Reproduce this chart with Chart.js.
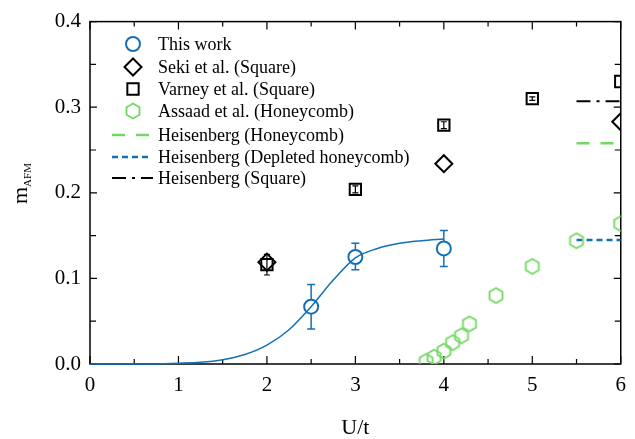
<!DOCTYPE html>
<html>
<head>
<meta charset="utf-8">
<script src="https://cdn.jsdelivr.net/npm/chart.js@4"></script>
<style>
  html, body { margin: 0; padding: 0; background: #fff; }
  #wrap { width: 635px; height: 439px; }
</style>
</head>
<body>
<div id="wrap"><canvas id="afmChart" width="635" height="439"></canvas></div>
<script>
// valeurs
var uTicks = [0, 1, 2, 3, 4, 5, 6];
var mTicks = [0, 0.1, 0.2, 0.3, 0.4];

var thisWorkU = [2.5, 3, 4];
var thisWorkM = [0.067, 0.125, 0.135];
var thisWorkLo = [0.041, 0.110, 0.114];
var thisWorkHi = [0.093, 0.141, 0.156];

var fitU = [0, 0.5, 1, 1.25, 1.5, 1.75, 2, 2.25, 2.5, 2.75, 3, 3.25, 3.5, 3.75, 4];
var fitM = [0, 0, 0.001, 0.002, 0.005, 0.011, 0.022, 0.040, 0.067, 0.098, 0.124, 0.135, 0.141, 0.144, 0.146];

var sekiU = [2, 4, 6];
var sekiM = [0.119, 0.234, 0.283];

var varneyU = [2, 3, 4, 5, 6];
var varneyM = [0.116, 0.204, 0.279, 0.310, 0.330];
var varneyErr = [0.012, 0.004, 0.004, 0.002, 0.002];

var assaadU = [3.8, 3.89, 4.0, 4.1, 4.2, 4.29, 4.59, 5.0, 5.5, 6.0];
var assaadM = [0.003, 0.008, 0.015, 0.025, 0.033, 0.047, 0.080, 0.114, 0.144, 0.164];

var heisU = [5.5, 6];
var heisHoneycomb = [0.258, 0.258];
var heisDepleted = [0.145, 0.145];
var heisSquare = [0.307, 0.307];

var labels = ['This work', 'Seki et al. (Square)', 'Varney et al. (Square)', 'Assaad et al. (Honeycomb)',
  'Heisenberg (Honeycomb)', 'Heisenberg (Depleted honeycomb)', 'Heisenberg (Square)'];

var BLUE = '#1470b4';
var GREEN = '#72d862';
var SERIF = "'Liberation Serif', 'DejaVu Serif', serif";

function pts(xs, ys) {
  return xs.map(function (x, i) { return { x: x, y: ys[i] }; });
}

// hexagone pour Assaad
var hex = document.createElement('canvas');
hex.width = 20; hex.height = 20;
(function () {
  var c = hex.getContext('2d');
  c.strokeStyle = GREEN;
  c.lineWidth = 1.8;
  c.beginPath();
  for (var k = 0; k < 6; k++) {
    var a = Math.PI / 2 + k * Math.PI / 3;
    var px = 10 + 7.5 * Math.cos(a), py = 10 + 7.5 * Math.sin(a);
    if (k === 0) c.moveTo(px, py); else c.lineTo(px, py);
  }
  c.closePath();
  c.stroke();
})();

var errorBars = {
  id: 'errorBars',
  afterDatasetsDraw: function (chart) {
    var ctx = chart.ctx, xs = chart.scales.x, ys = chart.scales.y;
    ctx.save();
    ctx.lineWidth = 1.5;
    ctx.strokeStyle = BLUE;
    thisWorkU.forEach(function (u, i) {
      var px = xs.getPixelForValue(u);
      var pc = ys.getPixelForValue(thisWorkM[i]);
      var pl = ys.getPixelForValue(thisWorkLo[i]);
      var ph = ys.getPixelForValue(thisWorkHi[i]);
      ctx.beginPath();
      ctx.moveTo(px, ph); ctx.lineTo(px, pc - 7);
      ctx.moveTo(px, pc + 7); ctx.lineTo(px, pl);
      ctx.moveTo(px - 4, ph); ctx.lineTo(px + 4, ph);
      ctx.moveTo(px - 4, pl); ctx.lineTo(px + 4, pl);
      ctx.stroke();
    });
    ctx.strokeStyle = '#000';
    ctx.lineWidth = 1.2;
    varneyU.forEach(function (u, i) {
      if (u >= 6) return;
      var px = xs.getPixelForValue(u);
      var pl = ys.getPixelForValue(varneyM[i] - varneyErr[i]);
      var ph = ys.getPixelForValue(varneyM[i] + varneyErr[i]);
      ctx.beginPath();
      ctx.moveTo(px, ph); ctx.lineTo(px, pl);
      ctx.moveTo(px - 3, ph); ctx.lineTo(px + 3, ph);
      ctx.moveTo(px - 3, pl); ctx.lineTo(px + 3, pl);
      ctx.stroke();
    });
    ctx.restore();
  }
};

// cadre, graduations internes et titre y (dessinés sous les courbes)
var frame = {
  id: 'frame',
  beforeDatasetsDraw: function (chart) {
    var ctx = chart.ctx, a = chart.chartArea, xs = chart.scales.x, ys = chart.scales.y;
    ctx.save();
    ctx.strokeStyle = '#000';
    ctx.lineWidth = 1.5;
    ctx.strokeRect(a.left, a.top, a.right - a.left, a.bottom - a.top);
    ctx.lineWidth = 1.2;
    ctx.beginPath();
    for (var u = 0; u <= 6; u += 0.5) {
      var px = xs.getPixelForValue(u);
      var len = (u % 1 === 0) ? 8 : 5;
      ctx.moveTo(px, a.bottom); ctx.lineTo(px, a.bottom - len);
      ctx.moveTo(px, a.top); ctx.lineTo(px, a.top + len);
    }
    for (var m = 0; m <= 8; m++) {
      var py = ys.getPixelForValue(m * 0.05);
      var l2 = (m % 2 === 0) ? 7 : 6;
      ctx.moveTo(a.left, py); ctx.lineTo(a.left + l2, py);
      ctx.moveTo(a.right, py); ctx.lineTo(a.right - l2, py);
    }
    ctx.stroke();

    ctx.fillStyle = '#000';
    ctx.translate(27, 204);
    ctx.rotate(-Math.PI / 2);
    ctx.textAlign = 'left';
    ctx.textBaseline = 'alphabetic';
    ctx.font = '22px ' + SERIF;
    ctx.fillText('m', 0, 0);
    var w = ctx.measureText('m').width;
    ctx.font = '11px ' + SERIF;
    ctx.fillText('AFM', w, 4);
    ctx.restore();
  }
};

var legendBox = {
  id: 'legendBox',
  afterDraw: function (chart) {
    var ctx = chart.ctx;
    var rows = [44, 67, 89, 111, 135, 157, 178];
    var mx = 133, tx = 158;
    ctx.save();
    ctx.font = '18px ' + SERIF;
    ctx.fillStyle = '#000';
    ctx.textBaseline = 'middle';
    labels.forEach(function (t, i) {
      ctx.fillText(t, tx, rows[i] + 1);
    });
    var ds = chart.data.datasets;
    // symboles
    [[1, 0], [2, 1], [3, 2], [4, 3]].forEach(function (p) {
      var d = ds[p[0]];
      ctx.strokeStyle = d.borderColor;
      ctx.fillStyle = 'rgba(0,0,0,0)';
      ctx.lineWidth = d.borderWidth;
      Chart.helpers.drawPoint(ctx, {
        pointStyle: d.pointStyle, radius: d.pointRadius, rotation: 0, borderWidth: d.borderWidth
      }, mx, rows[p[1]]);
    });
    // lignes
    [[5, 4], [6, 5], [7, 6]].forEach(function (p) {
      var d = ds[p[0]];
      ctx.strokeStyle = d.borderColor;
      ctx.lineWidth = d.borderWidth;
      ctx.setLineDash(d.borderDash);
      ctx.beginPath();
      ctx.moveTo(112, rows[p[1]]);
      ctx.lineTo(p[0] === 7 ? 153 : 150, rows[p[1]]);
      ctx.stroke();
    });
    ctx.restore();
  }
};

Chart.defaults.font.family = SERIF;
Chart.defaults.color = '#000';

var ctx = document.getElementById('afmChart').getContext('2d');
var afmChart = new Chart(ctx, {
  type: 'scatter',
  data: {
    datasets: [
      { type: 'line', data: pts(fitU, fitM), borderColor: BLUE, borderWidth: 1.5, pointRadius: 0,
        cubicInterpolationMode: 'monotone', fill: false, clip: 2 },
      { data: pts(thisWorkU, thisWorkM), pointStyle: 'circle', pointRadius: 7, borderColor: BLUE,
        backgroundColor: 'rgba(0,0,0,0)', borderWidth: 2, clip: 0 },
      { data: pts(sekiU, sekiM), pointStyle: 'rectRot', pointRadius: 8.5, borderColor: '#000',
        backgroundColor: 'rgba(0,0,0,0)', borderWidth: 2, clip: 0 },
      { data: pts(varneyU, varneyM), pointStyle: 'rect', pointRadius: 8, borderColor: '#000',
        backgroundColor: 'rgba(0,0,0,0)', borderWidth: 2, clip: 0 },
      { data: pts(assaadU, assaadM), pointStyle: hex, pointRadius: 7, borderColor: GREEN,
        backgroundColor: 'rgba(0,0,0,0)', borderWidth: 1.8, clip: 0 },
      { type: 'line', data: pts(heisU, heisHoneycomb), borderColor: GREEN, borderWidth: 2.5,
        borderDash: [13, 11], pointRadius: 0, fill: false, clip: 0 },
      { type: 'line', data: pts(heisU, heisDepleted), borderColor: BLUE, borderWidth: 2.5,
        borderDash: [6, 4], pointRadius: 0, fill: false, clip: 0 },
      { type: 'line', data: pts(heisU, heisSquare), borderColor: '#000', borderWidth: 2,
        borderDash: [14, 6, 3, 6], pointRadius: 0, fill: false, clip: 0 }
    ]
  },
  options: {
    responsive: false,
    animation: false,
    devicePixelRatio: 1,
    layout: { padding: { left: 0, right: 14, top: 16, bottom: 0 } },
    plugins: {
      legend: { display: false },
      tooltip: { enabled: false }
    },
    scales: {
      x: {
        type: 'linear', min: 0, max: 6,
        afterFit: function (s) { s.height = 75; },
        afterBuildTicks: function (s) { s.ticks = uTicks.map(function (v) { return { value: v }; }); },
        grid: { display: false, drawTicks: false },
        border: { display: false },
        ticks: { font: { size: 21 }, padding: 9, maxRotation: 0 },
        title: { display: true, text: 'U/t', font: { size: 22, lineHeight: 1 }, padding: { top: 0, bottom: 0 } }
      },
      y: {
        type: 'linear', min: 0, max: 0.4,
        afterFit: function (s) { s.width = 90; },
        afterBuildTicks: function (s) { s.ticks = mTicks.map(function (v) { return { value: v }; }); },
        grid: { display: false, drawTicks: false },
        border: { display: false },
        ticks: { font: { size: 21 }, padding: 9, callback: function (v) { return v.toFixed(1); } }
      }
    }
  },
  plugins: [errorBars, frame, legendBox]
});
</script>
</body>
</html>
